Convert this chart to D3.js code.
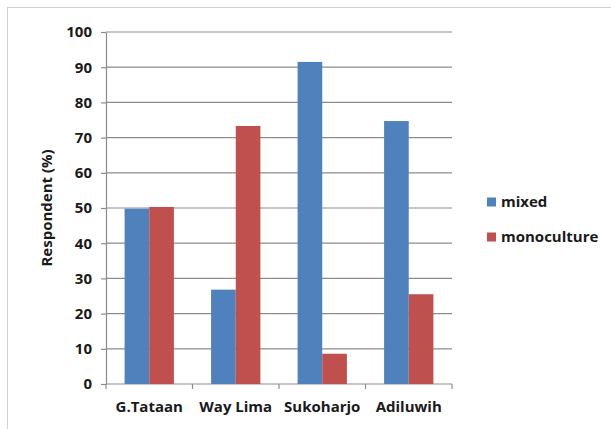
<!DOCTYPE html>
<meta charset="utf-8">
<style>
body { margin: 0; background: #fff; }
text { font-family: "Open Sans", sans-serif; font-weight: bold; fill: #1a1a1a; }
.grid line { stroke: #8c8c8c; stroke-width: 1.2px; }
.axis path, .axis line { stroke: #8c8c8c; stroke-width: 1.2px; }
</style>
<svg width="611" height="429"></svg>
<script src="https://d3js.org/d3.v7.min.js"></script>
<script>

var sites = ["G.Tataan", "Way Lima", "Sukoharjo", "Adiluwih"];
var seriesNames = ["mixed", "monoculture"];
var mixed = [49.8, 26.8, 91.5, 74.7];
var monoculture = [50.3, 73.3, 8.6, 25.5];
var yTicks = [0, 10, 20, 30, 40, 50, 60, 70, 80, 90, 100];
var colors = ["#4f81bd", "#c0504d"];

var svg = d3.select("svg"),
    margin = {top: 32, right: 159, bottom: 45, left: 106},
    width = +svg.attr("width") - margin.left - margin.right,
    height = +svg.attr("height") - margin.top - margin.bottom;

// outer frame
svg.append("rect")
    .attr("x", 7.5).attr("y", 7.5)
    .attr("width", 610).attr("height", 430)
    .attr("fill", "none")
    .attr("stroke", "#d0d0d0");

var g = svg.append("g").attr("transform", "translate(" + margin.left + "," + margin.top + ")");

var x0 = d3.scaleBand().domain(sites).range([0, width]).paddingInner(0.43).paddingOuter(0.215);
var x1 = d3.scaleBand().domain(seriesNames).range([0, x0.bandwidth()]);
var edge = d3.scaleBand().domain(sites).range([0, width]);
var y = d3.scaleLinear().domain([0, 100]).range([height, 0]);

g.append("g")
    .attr("class", "grid")
  .selectAll("line")
  .data(yTicks.slice(1))
  .enter().append("line")
    .attr("x1", 0).attr("x2", width)
    .attr("y1", function(d) { return y(d); })
    .attr("y2", function(d) { return y(d); });

var yAxis = g.append("g")
    .attr("class", "axis")
    .call(d3.axisLeft(y).tickValues(yTicks).tickSize(5).tickSizeOuter(0).tickPadding(9));
yAxis.selectAll("text").style("font-size", "15px").attr("fill", "#1a1a1a");

// x axis with ticks at category boundaries
var xg = g.append("g")
    .attr("class", "axis")
    .attr("transform", "translate(0," + height + ")");
xg.append("line").attr("x1", 0).attr("x2", width);
xg.selectAll(".tk")
  .data(sites.concat(["end"]))
  .enter().append("line")
    .attr("class", "tk")
    .attr("x1", function(d, i) { return i < sites.length ? edge(d) : width; })
    .attr("x2", function(d, i) { return i < sites.length ? edge(d) : width; })
    .attr("y1", 0).attr("y2", 5);
xg.selectAll(".lbl")
  .data(sites)
  .enter().append("text")
    .attr("class", "lbl")
    .attr("x", function(d) { return edge(d) + edge.bandwidth() / 2; })
    .attr("y", 28)
    .attr("text-anchor", "middle")
    .style("font-size", "15px")
    .text(function(d) { return d; });

var data = sites.map(function(s, i) {
  return {site: s, values: [mixed[i], monoculture[i]]};
});

g.selectAll(".grp")
  .data(data)
  .enter().append("g")
    .attr("transform", function(d) { return "translate(" + x0(d.site) + ",0)"; })
  .selectAll("rect")
  .data(function(d) { return d.values.map(function(v, j) { return {k: seriesNames[j], v: v, c: colors[j]}; }); })
  .enter().append("rect")
    .attr("x", function(d) { return x1(d.k); })
    .attr("width", x1.bandwidth())
    .attr("y", function(d) { return y(d.v); })
    .attr("height", function(d) { return height - y(d.v); })
    .attr("fill", function(d) { return d.c; });

// y label
svg.append("text")
    .attr("transform", "translate(52," + (margin.top + height / 2) + ") rotate(-90)")
    .attr("text-anchor", "middle")
    .style("font-size", "15px")
    .text("Respondent (%)");

// legend
var leg = svg.append("g").attr("transform", "translate(487,0)");
var items = leg.selectAll("g")
  .data(seriesNames)
  .enter().append("g")
    .attr("transform", function(d, i) { return "translate(0," + (202 + i * 35) + ")"; });
items.append("rect")
    .attr("x", 0).attr("y", -4.5)
    .attr("width", 9).attr("height", 9)
    .attr("fill", function(d, i) { return colors[i]; });
items.append("text")
    .attr("x", 14)
    .attr("dy", "0.35em")
    .style("font-size", "15px")
    .text(function(d) { return d; });

</script>
